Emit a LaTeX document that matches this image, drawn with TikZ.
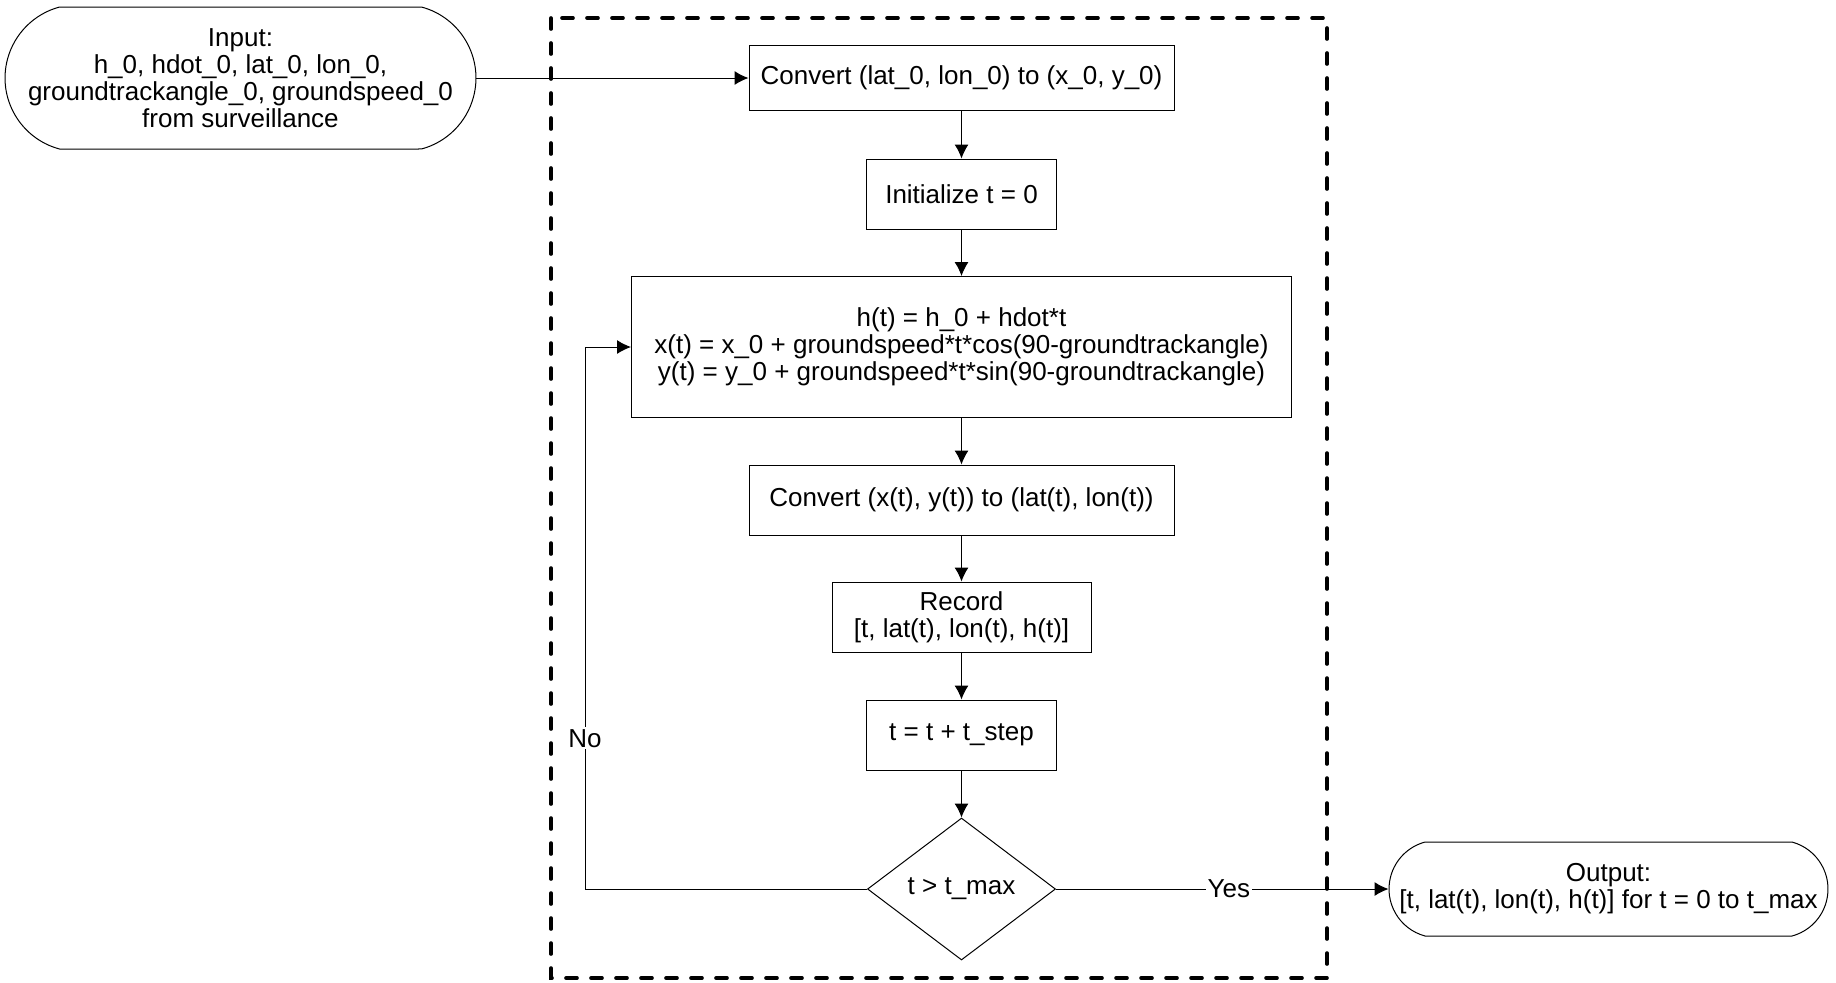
\documentclass[tikz,border=0pt]{standalone}
\usepackage{fontspec}
\setmainfont{Liberation Sans}
\usepackage{tikz}
\usetikzlibrary{arrows.meta,positioning,shapes.geometric,shapes.misc}

\begin{document}
\begin{tikzpicture}[x=0.5pt,y=-0.5pt,
  font=\fontsize{13}{13.4}\selectfont,
  box/.style={draw,line width=0.5pt,align=center,inner sep=2pt},
  term/.style={draw,line width=0.5pt,align=center,rounded rectangle,
    rounded rectangle arc length=150,inner sep=2pt},
  decide/.style={draw,line width=0.5pt,diamond,aspect=1.32,inner sep=0pt,
    minimum width=94pt,minimum height=71pt},
  flow/.style={-{Latex[length=7pt,width=7pt]},line width=0.5pt},
  lbl/.style={fill=white,inner sep=1pt},
  frame/.style={line width=1.8pt,line cap=round,dash pattern=on 5.5pt off 7pt}]
\useasboundingbox (0,0) rectangle (1836,982);
% loop frame
\draw[frame] (551,18) rectangle (1327,978);
% nodes
\node[term,minimum width=231.5pt,minimum height=71pt] (in) at (240.5,78)
  {Input:\\h\_0, hdot\_0, lat\_0, lon\_0,\\groundtrackangle\_0, groundspeed\_0\\from surveillance};
\node[box,minimum width=212.5pt,minimum height=32.5pt] (conv1) at (961.5,78)
  {Convert (lat\_0, lon\_0) to (x\_0, y\_0)};
\node[box,minimum width=95pt,minimum height=35pt] (init) at (961.5,194)
  {Initialize t = 0};
\node[box,minimum width=330pt,minimum height=70.5pt] (calc) at (961.5,347)
  {h(t) = h\_0 + hdot*t\\x(t) = x\_0 + groundspeed*t*cos(90-groundtrackangle)\\y(t) = y\_0 + groundspeed*t*sin(90-groundtrackangle)};
\node[box,minimum width=212.5pt,minimum height=35pt] (conv2) at (961.5,500)
  {Convert (x(t), y(t)) to (lat(t), lon(t))};
\node[box,minimum width=129.5pt,minimum height=35pt] (rec) at (961.5,617)
  {Record\\{}[t, lat(t), lon(t), h(t)]};
\node[box,minimum width=95pt,minimum height=35pt] (tstep) at (961.5,735)
  {t = t + t\_step};
\node[decide] (dec) at (961.5,889) {t > t\_max};
\node[term,minimum width=223.5pt,minimum height=47pt] (out) at (1608.5,889)
  {Output:\\{}[t, lat(t), lon(t), h(t)] for t = 0 to t\_max};
\coordinate (back) at (585,889);
% connectors
\draw[flow] (in.east) -- (conv1.west);
\draw[flow] (conv1) -- (init);
\draw[flow] (init) -- (calc);
\draw[flow] (calc) -- (conv2);
\draw[flow] (conv2) -- (rec);
\draw[flow] (rec) -- (tstep);
\draw[flow] (tstep) -- (dec);
\draw[flow] (dec.west) -- (back) |- node[lbl,pos=0.139]{No} (calc.west);
\draw[flow] (dec.east) -- node[lbl,pos=0.52]{Yes} (out.west);
\end{tikzpicture}
\end{document}
